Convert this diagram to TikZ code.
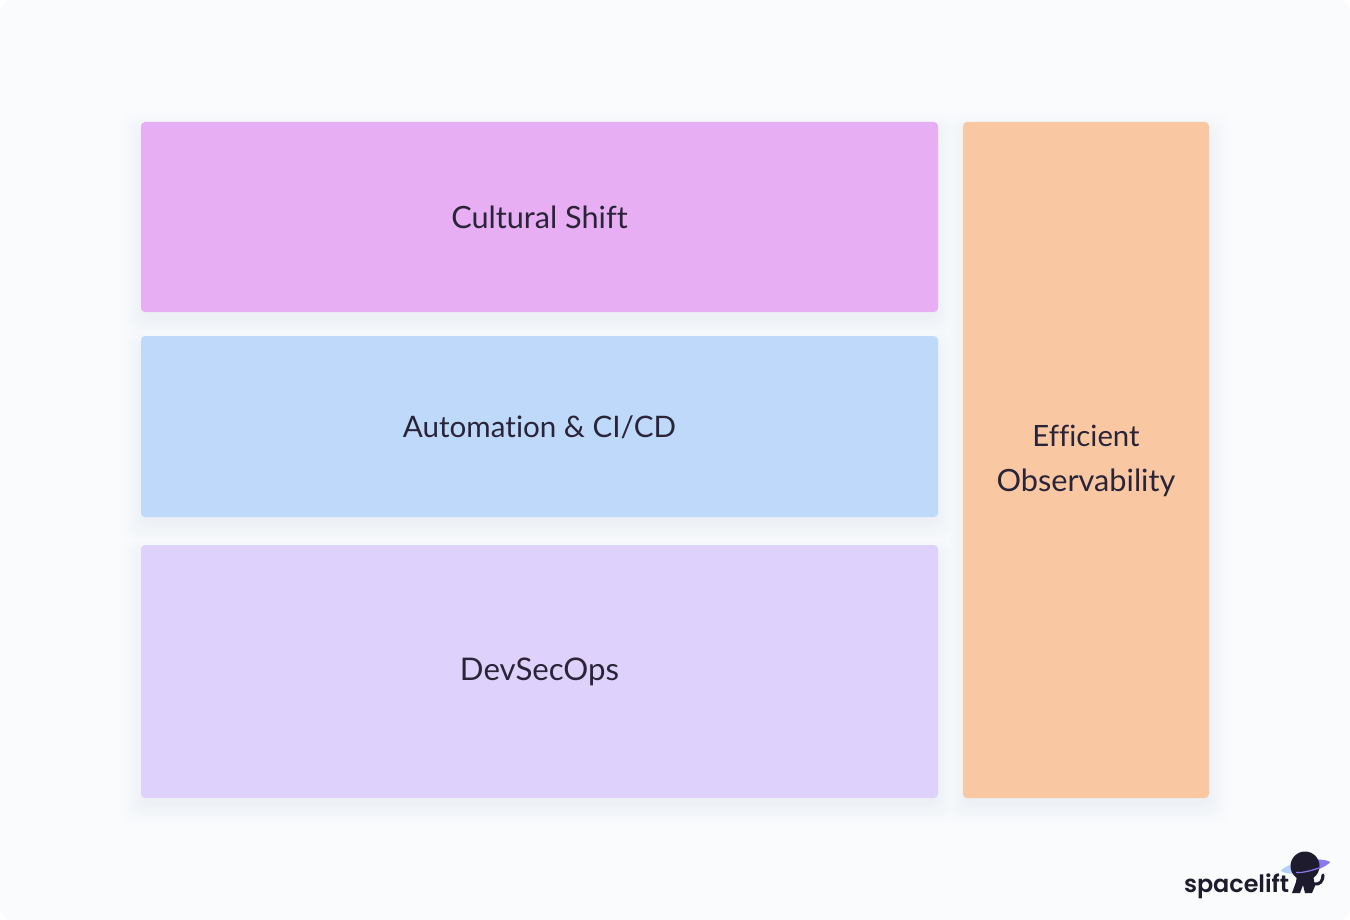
\documentclass[tikz,border=0pt]{standalone}
\usepackage{fontspec}
\setmainfont{Lato}[Ligatures=NoCommon]
\newfontfamily\logofont{Poppins SemiBold}
\definecolor{bgc}{HTML}{F9FBFD}
\definecolor{pinkc}{HTML}{E7AEF3}
\definecolor{bluec}{HTML}{BFD9FB}
\definecolor{lavc}{HTML}{DED1FB}
\definecolor{peachc}{HTML}{F9C8A3}
\definecolor{inkc}{HTML}{2A2438}
\definecolor{logoc}{HTML}{1F1B2E}
\definecolor{shadowc}{HTML}{EDF1F6}
\definecolor{ringa}{HTML}{B4CFFB}
\definecolor{ringb}{HTML}{8B78F0}
\tikzset{
  x=0.75pt,y=-0.75pt,
  panel/.style={inner sep=0pt,outer sep=0pt,rounded corners=3pt,align=center,text=inkc,font=\fontsize{23}{33.5}\selectfont},
  logotext/.style={inner sep=0pt,outer sep=0pt,anchor=base west,text=logoc,font=\logofont\fontsize{17.9}{22}\selectfont}
}
\newcommand{\softlevel}[6]{% x0 y0 x1 y1 grow colour-percent
  \fill[shadowc!#6!bgc,rounded corners=8pt]
    ({#1-#5},{#2-#5+10}) rectangle ({#3+#5},{#4+#5+7});
}
\newcommand{\labeltext}[3]{{\fontsize{#1}{33.5}\selectfont\raisebox{#2}[\height][\depth]{#3}}}
\newcommand{\panelbox}[7]{%
  \node[panel,fill=#5,minimum width=#3*0.75pt-#1*0.75pt,minimum height=#4*0.75pt-#2*0.75pt] (#6) at ({(#1+#3)/2},{(#2+#4)/2}) {#7};%
}
\begin{document}
\begin{tikzpicture}
\useasboundingbox (0,0) rectangle (1350,920);
\fill[white] (0,0) rectangle (1350,920);
\fill[bgc,rounded corners=9pt] (0,0) rectangle (1350,920);
\foreach \lev in {1,...,12}{
  \pgfmathtruncatemacro{\pc}{100*(\lev/12)^1.5}
  \pgfmathsetmacro{\grow}{(12-\lev)*2}
  \softlevel{141}{122}{938}{312}{\grow}{\pc}
  \softlevel{141}{336}{938}{517}{\grow}{\pc}
  \softlevel{141}{545}{938}{798}{\grow}{\pc}
  \softlevel{963}{122}{1209}{798}{\grow}{\pc}
}
\panelbox{141}{122}{938}{312}{pinkc}{culture}{\labeltext{23}{0pt}{Cultural Shift}}
\panelbox{141}{336}{938}{517}{bluec}{automation}{\labeltext{22.2}{-0.75pt}{Automation \& CI/CD}}
\panelbox{141}{545}{938}{798}{lavc}{devsecops}{\labeltext{23.4}{-0.4pt}{DevSecOps}}
\panelbox{963}{122}{1209}{798}{peachc}{observability}{\labeltext{22}{-0.75pt}{Efficient}\\\labeltext{23}{-0.75pt}{Observability}}
% logo
\node[logotext] (logoword) at (1184,892) {spacelift};
\fill[ringa] (1281,870.7) .. controls (1288,862) and (1320,856) .. (1330,862) .. controls (1323,871) and (1290,878) .. (1281,870.7) -- cycle;
\begin{scope}
\clip (1306,845) rectangle (1335,885);
\fill[ringb] (1281,870.7) .. controls (1288,862) and (1320,856) .. (1330,862) .. controls (1323,871) and (1290,878) .. (1281,870.7) -- cycle;
\end{scope}
\fill[logoc] (1305,866) circle [radius=14.5];
\draw[ringb,line width=0.9pt] (1296,872.5) .. controls (1302,873) and (1310,871) .. (1319,868);
\fill[logoc] (1297,875) -- (1313,875) -- (1315,886) -- (1312,893) -- (1305,893) -- (1303,885) -- (1300,893) -- (1292,893) -- (1296,882) -- cycle;
\draw[logoc,line width=2.3pt,line cap=round] (1314,884) .. controls (1320,885) and (1323,881) .. (1323,875);
\end{tikzpicture}
\end{document}
